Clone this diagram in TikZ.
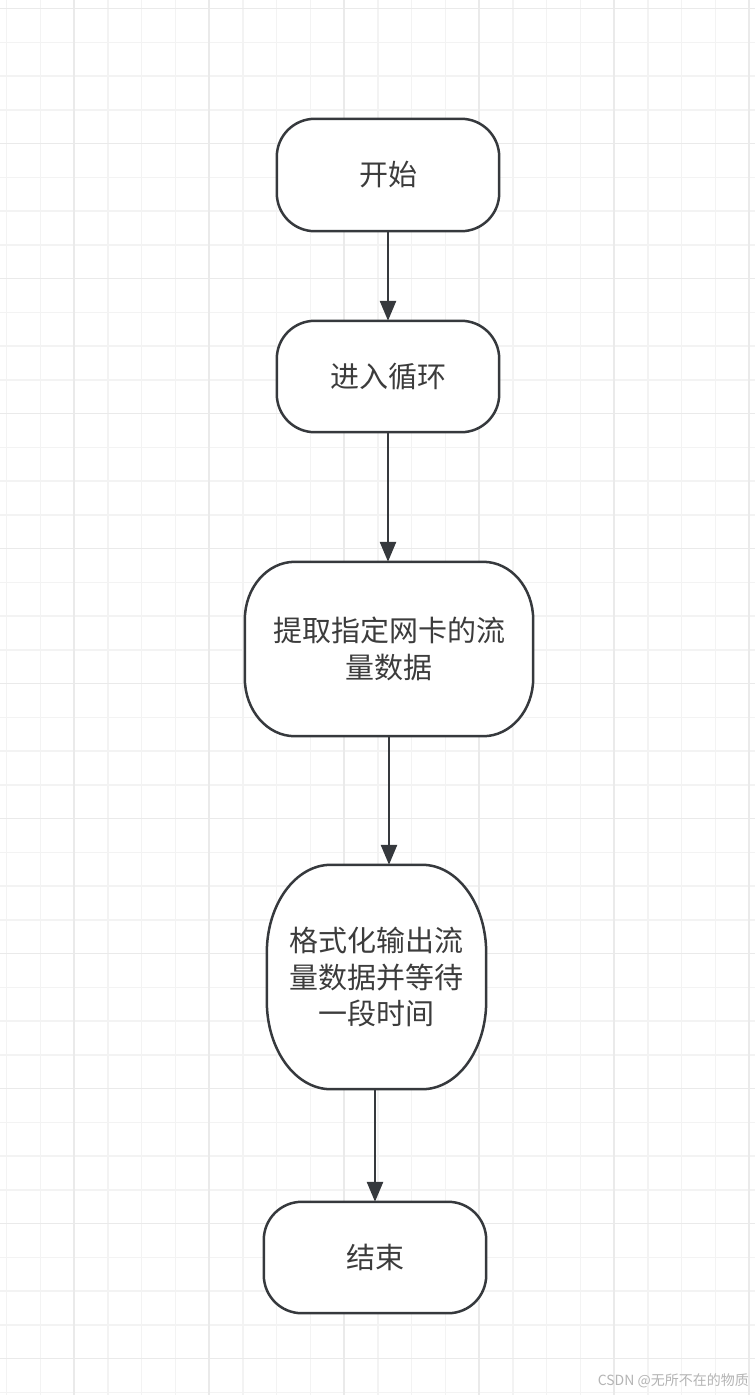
\documentclass[tikz,border=0pt]{standalone}
\usepackage{fontspec}
\usepackage{xcolor}
\usepackage{tikz}
\usetikzlibrary{calc}
\usetikzlibrary{positioning}
\usetikzlibrary{arrows.meta}
\newfontfamily\cjk{Noto Sans CJK SC}
\definecolor{G0}{HTML}{F3F3F3}
\definecolor{G1}{HTML}{EAEAEA}
\definecolor{B0}{HTML}{36393D}
\definecolor{T0}{HTML}{3C3C3C}
\definecolor{W0}{HTML}{B4B4B4}
\tikzset{
  gridminor/.style={G0, line width=1.5pt},
  gridmajor/.style={G1, line width=1.6pt},
  flowtext/.style={inner sep=0pt, align=center, text=T0, font=\cjk\fontsize{29}{36.5}\selectfont},
  boxline/.style={B0, line width=2.5pt, fill=white},
  flowarrow/.style={B0, line width=2.6pt, -{Triangle[length=20pt,width=16pt]}}
}
% outline with elliptic corners round a named node
\newcommand{\boxoutline}[3]{%
  \filldraw[boxline] ([xshift=#2]#1.north west) -- ([xshift=-#2]#1.north east)
    arc[start angle=90, end angle=0, x radius=#2, y radius=#3]
    -- ([yshift=#3]#1.south east)
    arc[start angle=0, end angle=-90, x radius=#2, y radius=#3]
    -- ([xshift=#2]#1.south west)
    arc[start angle=270, end angle=180, x radius=#2, y radius=#3]
    -- ([yshift=-#3]#1.north west)
    arc[start angle=180, end angle=90, x radius=#2, y radius=#3] -- cycle;}

\begin{document}
\begin{tikzpicture}[x=1pt, y=-1pt]
\def \W {755}
\def \H {1395}
\def \gs {33.75}
\useasboundingbox (0,0) rectangle (\W,\H);
\fill[white] (0,0) rectangle (\W,\H);
% grid
\foreach \i in {0,...,22} \draw[gridminor] ({6.5+\gs*\i},0) -- ({6.5+\gs*\i},\H);
\foreach \j in {0,...,41} \draw[gridminor] (0,{8.5+\gs*\j}) -- (\W,{8.5+\gs*\j});
\foreach \i in {0,...,5} \draw[gridmajor] ({74+4*\gs*\i},0) -- ({74+4*\gs*\i},\H);
\foreach \j in {0,...,10} \draw[gridmajor] (0,{8.5+4*\gs*\j}) -- (\W,{8.5+4*\gs*\j});

% nodes
\node[flowtext, minimum width=222pt, minimum height=112pt] (start) at (388,175) {};
\node[flowtext, minimum width=222pt, minimum height=111pt] (loop) at (388,376.5) {};
\node[flowtext, minimum width=288pt, minimum height=174pt] (extract) at (389,649) {};
\node[flowtext, minimum width=219pt, minimum height=224pt] (format) at (376.5,977) {};
\node[flowtext, minimum width=222pt, minimum height=111pt] (finish) at (375,1257.5) {};

\boxoutline{start}{38pt}{38pt}
\boxoutline{loop}{38pt}{38pt}
\boxoutline{extract}{50pt}{58pt}
\boxoutline{format}{64pt}{88pt}
\boxoutline{finish}{38pt}{38pt}

\node[flowtext] at (start) {开始};
\node[flowtext] at (loop) {进入循环};
\node[flowtext] at (extract) {提取指定网卡的流\\量数据};
\node[flowtext] at (format) {格式化输出流\\量数据并等待\\一段时间};
\node[flowtext] at (finish) {结束};

% connectors
\draw[flowarrow] (start.south) -- (loop.north);
\draw[flowarrow] (loop.south) -- (loop.south |- extract.north);
\draw[flowarrow] (extract.south) -- (extract.south |- format.north);
\draw[flowarrow] (finish.north |- format.south) -- (finish.north);

\node[anchor=east, inner sep=0pt, text=W0, font=\cjk\fontsize{14}{16}\selectfont] (mark) at (749,1381) {CSDN @无所不在的物质};
\end{tikzpicture}
\end{document}
